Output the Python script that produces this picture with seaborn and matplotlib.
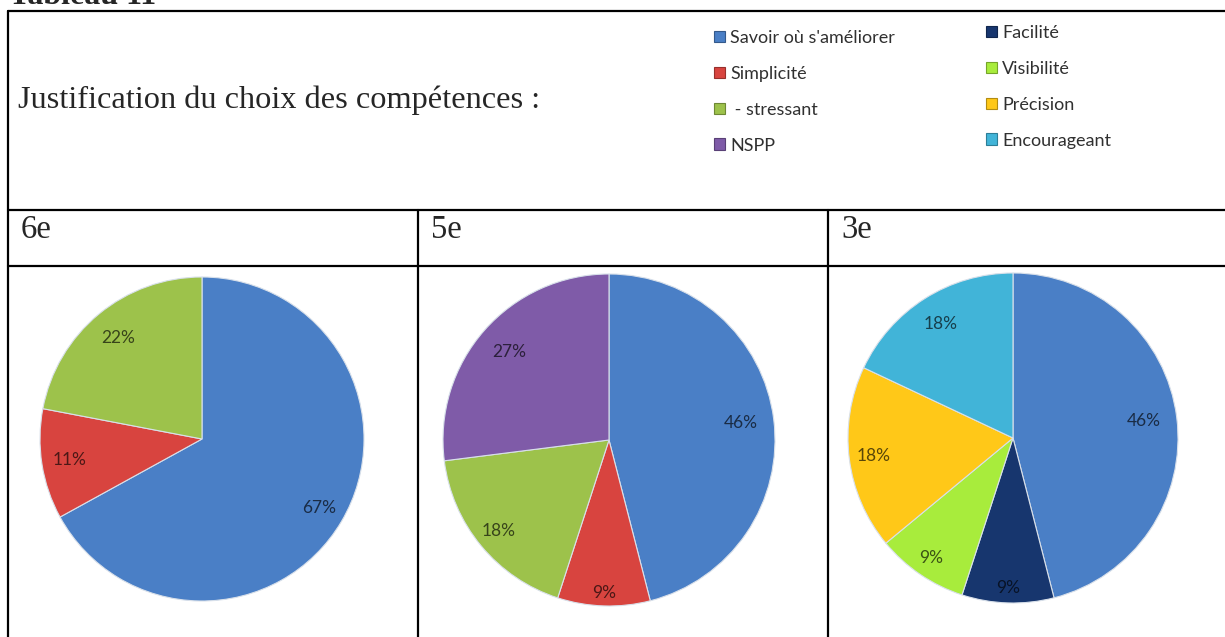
import numpy as np
import seaborn as sns
import matplotlib.pyplot as plt
import matplotlib.colors as mcolors
from matplotlib.patches import Patch
from matplotlib.lines import Line2D

# categories (legend order) and their colours
col1_cats = ["Savoir où s'améliorer", "Simplicité", " - stressant", "NSPP"]
col2_cats = ["Facilité", "Visibilité", "Précision", "Encourageant"]
cat_colors = {
    "Savoir où s'améliorer": "#4a7fc6",
    "Simplicité": "#d8443f",
    " - stressant": "#9dc24b",
    "NSPP": "#7f5ba8",
    "Facilité": "#17366e",
    "Visibilité": "#a8ec3c",
    "Précision": "#ffc818",
    "Encourageant": "#41b4d8",
}

niveaux = ["6e", "5e", "3e"]
cats_6e = ["Savoir où s'améliorer", "Simplicité", " - stressant"]
vals_6e = [67, 11, 22]
cats_5e = ["Savoir où s'améliorer", "Simplicité", " - stressant", "NSPP"]
vals_5e = [46, 9, 18, 27]
cats_3e = ["Savoir où s'améliorer", "Facilité", "Visibilité", "Précision", "Encourageant"]
vals_3e = [46, 9, 9, 18, 18]

title = "Justification du choix des compétences :"

sns.set_style("white")

W, H = 1225, 637
fig = plt.figure(figsize=(W / 100, H / 100), dpi=100)


def fx(x):
    return x / W


def fy(y):
    return 1 - y / H


def shade(c, f):
    r, g, b = mcolors.to_rgb(c)
    return (r * f, g * f, b * f)


# table grid
def hline(y, x0, x1):
    fig.add_artist(Line2D([fx(x0), fx(x1)], [fy(y), fy(y)], color="black",
                          lw=1.6, transform=fig.transFigure))


def vline(x, y0, y1):
    fig.add_artist(Line2D([fx(x), fx(x)], [fy(y0), fy(y1)], color="black",
                          lw=1.6, transform=fig.transFigure))


for y in [11, 210, 266]:
    hline(y, 8, 1225)
vline(8, 11, 637)
vline(418, 210, 637)
vline(828, 210, 637)

serif = ["Liberation Serif", "DejaVu Serif"]
fig.text(fx(9), fy(4), "Tableau 11", family=serif, fontsize=23, weight="bold",
         va="baseline", ha="left")
fig.text(fx(18), fy(108), title, family=serif, fontsize=23.3,
         va="baseline", ha="left")
for name, x in zip(niveaux, [21, 431, 841]):
    fig.text(fx(x), fy(238), name, family=serif, fontsize=23.5,
             va="baseline", ha="left")

# legend, two columns
sans = ["Lato", "DejaVu Sans"]
for cats, x, y in [(col1_cats, 714, 30), (col2_cats, 986, 25)]:
    handles = [Patch(facecolor=cat_colors[c], edgecolor=shade(cat_colors[c], 0.7),
                     lw=0.8) for c in cats]
    leg = fig.legend(handles=handles, labels=cats, loc="upper left",
                     bbox_to_anchor=(fx(x), fy(y)), frameon=False,
                     prop={"family": sans, "size": 13}, labelspacing=1.1,
                     handlelength=0.6, handleheight=0.6, handletextpad=0.3,
                     borderpad=0, borderaxespad=0)
    for t in leg.get_texts():
        t.set_color("#303030")

# pies
pies = [
    (cats_6e, vals_6e, (202, 439, 162), [0.84, 0.83, 0.81]),
    (cats_5e, vals_5e, (609, 440, 166), [0.80, 0.92, 0.86, 0.80]),
    (cats_3e, vals_3e, (1013, 438, 165), [0.80, 0.91, 0.88, 0.85, 0.82]),
]
for cats, vals, (cx, cy, r), dists in pies:
    ax = fig.add_axes([fx(cx - r), fy(cy + r), 2 * r / W, 2 * r / H])
    colors = sns.color_palette([cat_colors[c] for c in cats])
    wedges, _, autotexts = ax.pie(
        vals, colors=colors, startangle=90, counterclock=False,
        autopct="%.0f%%", pctdistance=0.8,
        wedgeprops=dict(edgecolor="#d8e0ea", linewidth=0.8),
        textprops=dict(family=sans, fontsize=12.5))
    for t, c, d in zip(autotexts, cats, dists):
        px, py = t.get_position()
        t.set_position((px * d / 0.8, py * d / 0.8))
        t.set_color(shade(cat_colors[c], 0.35))
    ax.set_xlim(-1, 1)
    ax.set_ylim(-1, 1)
    ax.axis("off")
    for w in wedges:
        w.set_clip_on(False)

fig.savefig("out.png", dpi=100)
